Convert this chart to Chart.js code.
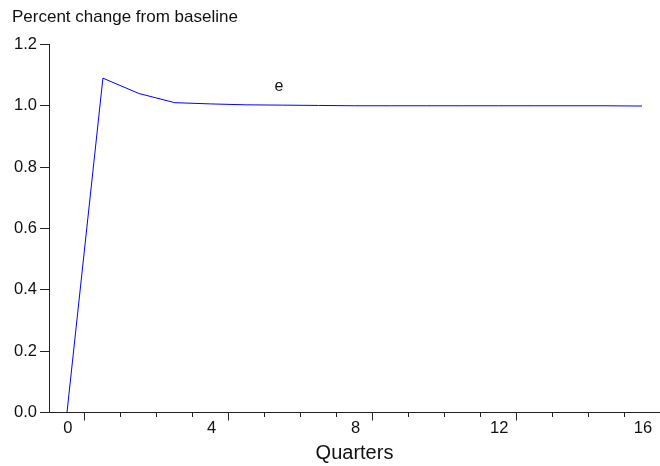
<!DOCTYPE html>
<html>
<head>
<meta charset="utf-8">
<script src="https://cdn.jsdelivr.net/npm/chart.js@4/dist/chart.umd.min.js"></script>
<style>
    html, body { margin: 0; padding: 0; background: #fff; }
    #wrap { width: 660px; height: 466px; }
</style>
</head>
<body>
<div id="wrap"><canvas id="chart"></canvas></div>
<script>
// quarters after the shock
const quarters = [0, 1, 2, 3, 4, 5, 6, 7, 8, 9, 10, 11, 12, 13, 14, 15, 16];
// series e, percent change from baseline
const eValues = [0, 1.09, 1.04, 1.01, 1.006, 1.003, 1.002, 1.001, 1.0, 1.0, 1.0, 1.0, 1.0, 1.0, 1.0, 1.0, 0.999];
const xTickLabels = ['0', '4', '8', '12', '16'];
const seriesName = 'e';

const FONT = "'Liberation Sans', Arial, sans-serif";
const INK = '#111';
const AXIS = '#222';

// series name written next to the line, placed in data units
const seriesLabel = {
    id: 'seriesLabel',
    afterDatasetsDraw(chart) {
        const { ctx, scales } = chart;
        ctx.save();
        ctx.font = `16px ${FONT}`;
        ctx.fillStyle = INK;
        ctx.textAlign = 'center';
        ctx.textBaseline = 'middle';
        ctx.fillText(seriesName, scales.x.getPixelForValue(5.9), scales.y.getPixelForValue(1.063));
        ctx.restore();
    }
};

const points = quarters.map((q, i) => ({ x: q, y: eValues[i] }));

new Chart(document.getElementById('chart'), {
    type: 'line',
    data: {
        datasets: [{
            label: seriesName,
            data: points,
            borderColor: '#0000ff',
            borderWidth: 1,
            pointRadius: 0,
            tension: 0,
            fill: false
        }]
    },
    options: {
        responsive: true,
        maintainAspectRatio: false,
        animation: false,
        devicePixelRatio: 1,
        layout: { padding: { left: 12, right: 0, top: 0, bottom: 2 } },
        plugins: {
            legend: { display: false },
            tooltip: { enabled: false },
            title: {
                display: true,
                text: 'Percent change from baseline',
                align: 'start',
                color: INK,
                font: { family: FONT, size: 17, weight: 'normal' },
                padding: { top: 7, bottom: 17 }
            }
        },
        scales: {
            x: {
                type: 'linear',
                min: -0.5,
                max: 16.5,
                afterBuildTicks: (scale) => {
                    // tick marks sit between observations
                    const t = [];
                    for (let v = 0.5; v <= 16.5; v += 1) t.push({ value: v });
                    scale.ticks = t;
                },
                afterFit: (scale) => { scale.paddingRight = 0; },
                border: { display: true, color: AXIS, width: 1 },
                grid: {
                    drawOnChartArea: false,
                    drawTicks: true,
                    tickLength: 8,
                    tickColor: AXIS,
                    tickWidth: 1,
                    tickBorderDash: (ctx) => {
                        const v = ctx.tick ? ctx.tick.value : 0;
                        return Math.round(v - 0.5) % 4 === 0 ? [] : [4, 40];
                    }
                },
                ticks: {
                    color: INK,
                    font: { family: FONT, size: 16.5, lineHeight: 1 },
                    padding: 0,
                    maxRotation: 0,
                    autoSkip: false,
                    labelOffset: -17,
                    callback: (v) => {
                        const q = Math.round(v - 0.5);
                        return xTickLabels.includes(String(q)) ? String(q) : '';
                    }
                },
                title: {
                    display: true,
                    text: 'Quarters',
                    color: INK,
                    font: { family: FONT, size: 20, lineHeight: 1.1 },
                    padding: { top: 5, bottom: 0 }
                }
            },
            y: {
                min: 0,
                max: 1.2,
                afterFit: (scale) => { scale.width = 37; },
                border: { display: true, color: AXIS, width: 1 },
                grid: {
                    drawOnChartArea: false,
                    drawTicks: true,
                    tickLength: 9,
                    tickColor: AXIS
                },
                ticks: {
                    stepSize: 0.2,
                    color: INK,
                    font: { family: FONT, size: 16.5 },
                    padding: 3,
                    callback: (v) => v.toFixed(1)
                }
            }
        }
    },
    plugins: [seriesLabel]
});
</script>
</body>
</html>
